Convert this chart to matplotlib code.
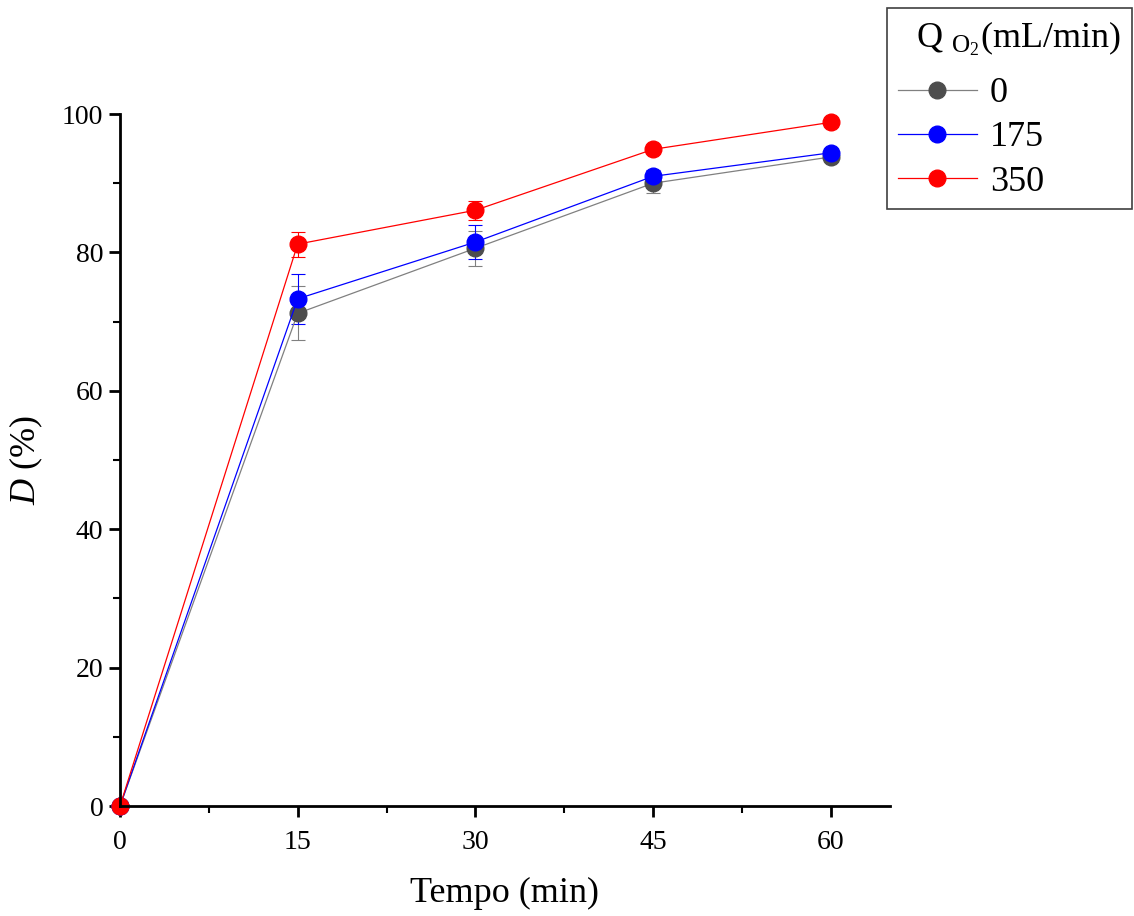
import numpy as np
import matplotlib
matplotlib.use("Agg")
import matplotlib.pyplot as plt
from matplotlib.lines import Line2D

plt.rcParams['font.family'] = ['Liberation Serif', 'DejaVu Serif']
plt.rcParams['mathtext.fontset'] = 'custom'
plt.rcParams['mathtext.rm'] = 'Liberation Serif'
plt.rcParams['mathtext.it'] = 'Liberation Serif:italic'

tempo = [0, 15, 30, 45, 60]
labels = ['0', '175', '350']
d_0 = [0, 71.2, 80.6, 90.0, 93.8]
d_175 = [0, 73.3, 81.5, 91.0, 94.4]
d_350 = [0, 81.2, 86.1, 94.9, 98.8]
err_0 = [0, 3.9, 2.5, 1.4, 0.5]
err_175 = [0, 3.6, 2.5, 0.9, 0.5]
err_350 = [0, 1.8, 1.4, 0.5, 0.4]

series = [(d_0, err_0, '#4d4d4d', '#808080'),
          (d_175, err_175, '#0000ff', '#0000ff'),
          (d_350, err_350, '#ff0000', '#ff0000')]

fig = plt.figure(figsize=(11.34, 9.16), dpi=100)
ax = fig.add_axes([0.1058, 0.12, 0.679, 0.7555])

handles = []
for (vals, errs, mcol, lcol), lab in zip(series, labels):
    ax.errorbar(tempo, vals, yerr=errs, color=lcol, ecolor=lcol, elinewidth=0.8,
                capsize=5, capthick=0.8, linewidth=0.9, marker='o', markersize=12,
                markerfacecolor=mcol, markeredgecolor=mcol, clip_on=False)
    handles.append(Line2D([], [], color=lcol, linewidth=0.9, marker='o', markersize=12,
                          markerfacecolor=mcol, markeredgecolor=mcol, label=lab))

ax.set_xlim(0, 65)
ax.set_ylim(0, 100)
ax.set_xticks([0, 15, 30, 45, 60])
ax.set_xticks([7.5, 22.5, 37.5, 52.5], minor=True)
ax.set_yticks([0, 20, 40, 60, 80, 100])
ax.set_yticks([10, 30, 50, 70, 90], minor=True)
for s in ['top', 'right']:
    ax.spines[s].set_visible(False)
for s in ['left', 'bottom']:
    ax.spines[s].set_linewidth(2)
ax.tick_params(which='major', direction='out', length=8, width=2, labelsize=20)
ax.tick_params(axis='x', which='major', pad=9)
ax.tick_params(axis='y', which='major', pad=4)
ax.tick_params(which='minor', direction='out', length=5, width=1.5)
ax.set_xlabel('Tempo (min)', fontsize=26, labelpad=16)
ax.set_ylabel(r'$\mathit{D}$ (%)', fontsize=26, labelpad=12)

leg = ax.legend(handles=handles, title=r'  Q $_{\mathrm{O_2}}$(mL/min)', loc='upper left',
                bbox_to_anchor=(0.996, 1.153), fontsize=26, title_fontsize=26,
                handlelength=2.2, handletextpad=0.35, borderpad=0.3, labelspacing=0.3,
                borderaxespad=0, fancybox=False, edgecolor='#404040', framealpha=1)
leg.get_frame().set_linewidth(1.2)
leg._legend_box.align = 'left'
leg._legend_box.sep = 14

fig.savefig('out.png', dpi=100)
